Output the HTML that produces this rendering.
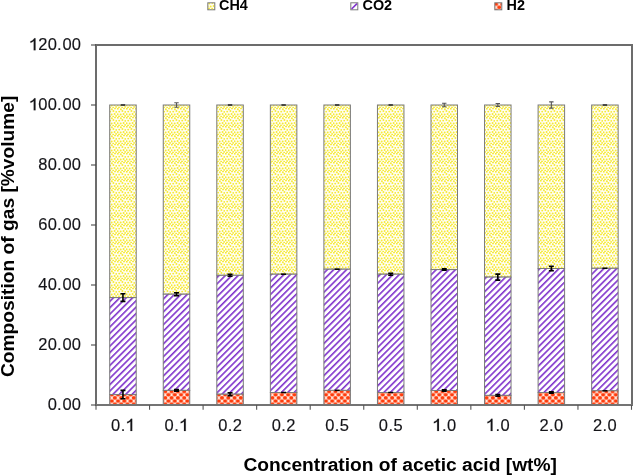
<!DOCTYPE html><html><head><meta charset="utf-8"><style>
html,body{margin:0;padding:0;background:#fff;}
svg{display:block;filter:blur(0.3px);}
text{font-family:"Liberation Sans", sans-serif;}
</style></head><body>
<svg width="633" height="475" viewBox="0 0 633 475">
<defs>
<pattern id="pCH4" patternUnits="userSpaceOnUse" width="9" height="9"><rect width="9" height="9" fill="#fffdf0"/><circle cx="0.8" cy="0.7" r="0.95" fill="#f6ea36"/><circle cx="3.9" cy="1.2" r="0.95" fill="#f6ea36"/><circle cx="7.0" cy="0.4" r="0.95" fill="#f6ea36"/><circle cx="2.2" cy="3.6" r="0.95" fill="#f6ea36"/><circle cx="5.4" cy="3.0" r="0.95" fill="#f6ea36"/><circle cx="8.3" cy="3.9" r="0.95" fill="#f6ea36"/><circle cx="0.6" cy="6.2" r="0.95" fill="#f6ea36"/><circle cx="3.7" cy="6.5" r="0.95" fill="#f6ea36"/><circle cx="6.6" cy="6.0" r="0.95" fill="#f6ea36"/><circle cx="2.0" cy="8.4" r="0.95" fill="#f6ea36"/><circle cx="5.2" cy="8.6" r="0.95" fill="#f6ea36"/><circle cx="8.1" cy="7.9" r="0.95" fill="#f6ea36"/></pattern>
<pattern id="pCO2" patternUnits="userSpaceOnUse" width="4.53" height="4.53" patternTransform="rotate(45)"><rect width="4.53" height="4.53" fill="#ffffff"/><rect x="0" y="0" width="1.6" height="4.53" fill="#8034cc"/></pattern>
<pattern id="pH2" patternUnits="userSpaceOnUse" width="6.3" height="6.3" patternTransform="translate(1.5 1.0)"><rect width="6.3" height="6.3" fill="#ffeae0"/><ellipse cx="0.00" cy="0.00" rx="2.1" ry="1.9" fill="#ff3c0c"/><ellipse cx="6.30" cy="0.00" rx="2.1" ry="1.9" fill="#ff3c0c"/><ellipse cx="0.00" cy="6.30" rx="2.1" ry="1.9" fill="#ff3c0c"/><ellipse cx="6.30" cy="6.30" rx="2.1" ry="1.9" fill="#ff3c0c"/><ellipse cx="3.15" cy="3.15" rx="2.1" ry="1.9" fill="#ff3c0c"/></pattern>
</defs>
<rect x="96.00" y="45" width="536.00" height="360" fill="none" stroke="#6c6c6c" stroke-width="2"/>
<rect x="109.70" y="105.00" width="26.50" height="192.60" fill="url(#pCH4)" stroke="#7a7a7a" stroke-width="1"/>
<rect x="109.70" y="297.60" width="26.50" height="97.00" fill="url(#pCO2)" stroke="#7a7a7a" stroke-width="1"/>
<rect x="109.70" y="394.60" width="26.50" height="10.40" fill="url(#pH2)" stroke="#7a7a7a" stroke-width="1"/>
<path d="M120.75 105.00h4.4" stroke="#222" stroke-width="1.5" fill="none"/>
<path d="M122.95 293.80V301.40M120.45 293.80h5.0M120.45 301.40h5.0" stroke="#000" stroke-width="1.6" fill="none"/>
<path d="M122.95 390.40V398.80M120.45 390.40h5.0M120.45 398.80h5.0" stroke="#000" stroke-width="1.6" fill="none"/>
<rect x="163.25" y="105.00" width="26.50" height="189.20" fill="url(#pCH4)" stroke="#7a7a7a" stroke-width="1"/>
<rect x="163.25" y="294.20" width="26.50" height="96.20" fill="url(#pCO2)" stroke="#7a7a7a" stroke-width="1"/>
<rect x="163.25" y="390.40" width="26.50" height="14.60" fill="url(#pH2)" stroke="#7a7a7a" stroke-width="1"/>
<path d="M176.50 102.70V107.30M174.30 102.70h4.4M174.30 107.30h4.4" stroke="#555" stroke-width="1.1" fill="none"/>
<path d="M176.50 292.70V295.70M174.00 292.70h5.0M174.00 295.70h5.0" stroke="#000" stroke-width="1.6" fill="none"/>
<path d="M176.50 389.60V391.20M174.00 389.60h5.0M174.00 391.20h5.0" stroke="#000" stroke-width="1.6" fill="none"/>
<rect x="216.80" y="105.00" width="26.50" height="170.30" fill="url(#pCH4)" stroke="#7a7a7a" stroke-width="1"/>
<rect x="216.80" y="275.30" width="26.50" height="118.90" fill="url(#pCO2)" stroke="#7a7a7a" stroke-width="1"/>
<rect x="216.80" y="394.20" width="26.50" height="10.80" fill="url(#pH2)" stroke="#7a7a7a" stroke-width="1"/>
<path d="M227.85 105.00h4.4" stroke="#222" stroke-width="1.5" fill="none"/>
<path d="M230.05 274.30V276.30M227.55 274.30h5.0M227.55 276.30h5.0" stroke="#000" stroke-width="1.6" fill="none"/>
<path d="M230.05 392.70V395.70M227.55 392.70h5.0M227.55 395.70h5.0" stroke="#000" stroke-width="1.6" fill="none"/>
<rect x="270.35" y="105.00" width="26.50" height="169.20" fill="url(#pCH4)" stroke="#7a7a7a" stroke-width="1"/>
<rect x="270.35" y="274.20" width="26.50" height="118.30" fill="url(#pCO2)" stroke="#7a7a7a" stroke-width="1"/>
<rect x="270.35" y="392.50" width="26.50" height="12.50" fill="url(#pH2)" stroke="#7a7a7a" stroke-width="1"/>
<path d="M281.40 105.00h4.4" stroke="#222" stroke-width="1.5" fill="none"/>
<path d="M281.10 274.20h5.0" stroke="#000" stroke-width="1.5" fill="none"/>
<path d="M281.10 392.50h5.0" stroke="#000" stroke-width="1.5" fill="none"/>
<rect x="323.90" y="105.00" width="26.50" height="164.20" fill="url(#pCH4)" stroke="#7a7a7a" stroke-width="1"/>
<rect x="323.90" y="269.20" width="26.50" height="121.20" fill="url(#pCO2)" stroke="#7a7a7a" stroke-width="1"/>
<rect x="323.90" y="390.40" width="26.50" height="14.60" fill="url(#pH2)" stroke="#7a7a7a" stroke-width="1"/>
<path d="M334.95 105.00h4.4" stroke="#222" stroke-width="1.5" fill="none"/>
<path d="M334.65 269.20h5.0" stroke="#000" stroke-width="1.5" fill="none"/>
<path d="M334.65 390.40h5.0" stroke="#000" stroke-width="1.5" fill="none"/>
<rect x="377.45" y="105.00" width="26.50" height="169.20" fill="url(#pCH4)" stroke="#7a7a7a" stroke-width="1"/>
<rect x="377.45" y="274.20" width="26.50" height="118.30" fill="url(#pCO2)" stroke="#7a7a7a" stroke-width="1"/>
<rect x="377.45" y="392.50" width="26.50" height="12.50" fill="url(#pH2)" stroke="#7a7a7a" stroke-width="1"/>
<path d="M388.50 105.00h4.4" stroke="#222" stroke-width="1.5" fill="none"/>
<path d="M390.70 273.20V275.20M388.20 273.20h5.0M388.20 275.20h5.0" stroke="#000" stroke-width="1.6" fill="none"/>
<path d="M388.20 392.50h5.0" stroke="#000" stroke-width="1.5" fill="none"/>
<rect x="431.00" y="105.00" width="26.50" height="164.60" fill="url(#pCH4)" stroke="#7a7a7a" stroke-width="1"/>
<rect x="431.00" y="269.60" width="26.50" height="120.90" fill="url(#pCO2)" stroke="#7a7a7a" stroke-width="1"/>
<rect x="431.00" y="390.50" width="26.50" height="14.50" fill="url(#pH2)" stroke="#7a7a7a" stroke-width="1"/>
<path d="M444.25 103.30V106.70M442.05 103.30h4.4M442.05 106.70h4.4" stroke="#555" stroke-width="1.1" fill="none"/>
<path d="M444.25 268.90V270.30M441.75 268.90h5.0M441.75 270.30h5.0" stroke="#000" stroke-width="1.6" fill="none"/>
<path d="M444.25 389.80V391.20M441.75 389.80h5.0M441.75 391.20h5.0" stroke="#000" stroke-width="1.6" fill="none"/>
<rect x="484.55" y="105.00" width="26.50" height="172.10" fill="url(#pCH4)" stroke="#7a7a7a" stroke-width="1"/>
<rect x="484.55" y="277.10" width="26.50" height="118.30" fill="url(#pCO2)" stroke="#7a7a7a" stroke-width="1"/>
<rect x="484.55" y="395.40" width="26.50" height="9.60" fill="url(#pH2)" stroke="#7a7a7a" stroke-width="1"/>
<path d="M497.80 103.50V106.50M495.60 103.50h4.4M495.60 106.50h4.4" stroke="#555" stroke-width="1.1" fill="none"/>
<path d="M497.80 274.10V280.10M495.30 274.10h5.0M495.30 280.10h5.0" stroke="#000" stroke-width="1.6" fill="none"/>
<path d="M497.80 394.50V396.30M495.30 394.50h5.0M495.30 396.30h5.0" stroke="#000" stroke-width="1.6" fill="none"/>
<rect x="538.10" y="105.00" width="26.50" height="163.50" fill="url(#pCH4)" stroke="#7a7a7a" stroke-width="1"/>
<rect x="538.10" y="268.50" width="26.50" height="124.00" fill="url(#pCO2)" stroke="#7a7a7a" stroke-width="1"/>
<rect x="538.10" y="392.50" width="26.50" height="12.50" fill="url(#pH2)" stroke="#7a7a7a" stroke-width="1"/>
<path d="M551.35 101.90V108.10M549.15 101.90h4.4M549.15 108.10h4.4" stroke="#555" stroke-width="1.1" fill="none"/>
<path d="M551.35 266.20V270.80M548.85 266.20h5.0M548.85 270.80h5.0" stroke="#000" stroke-width="1.6" fill="none"/>
<path d="M551.35 391.70V393.30M548.85 391.70h5.0M548.85 393.30h5.0" stroke="#000" stroke-width="1.6" fill="none"/>
<rect x="591.65" y="105.00" width="26.50" height="163.30" fill="url(#pCH4)" stroke="#7a7a7a" stroke-width="1"/>
<rect x="591.65" y="268.30" width="26.50" height="122.50" fill="url(#pCO2)" stroke="#7a7a7a" stroke-width="1"/>
<rect x="591.65" y="390.80" width="26.50" height="14.20" fill="url(#pH2)" stroke="#7a7a7a" stroke-width="1"/>
<path d="M602.70 105.00h4.4" stroke="#222" stroke-width="1.5" fill="none"/>
<path d="M602.40 268.30h5.0" stroke="#000" stroke-width="1.5" fill="none"/>
<path d="M602.40 390.80h5.0" stroke="#000" stroke-width="1.5" fill="none"/>
<path d="M96.00 44V406" stroke="#6c6c6c" stroke-width="2"/>
<path d="M95.00 405H633.00" stroke="#747474" stroke-width="2"/>
<path d="M91 405.00H96.00" stroke="#4a4a4a" stroke-width="1.1"/>
<g transform="translate(0 410.30) scale(1 1.010) translate(0 -410.30)"><text x="47.69" y="410.30" font-size="16.5" fill="#141418" stroke="#141418" stroke-width="0.15">0</text><text x="57.06" y="410.30" font-size="16.5" fill="#141418" stroke="#141418" stroke-width="0.15">.</text><text x="62.45" y="410.30" font-size="16.5" fill="#141418" stroke="#141418" stroke-width="0.15">0</text><text x="71.82" y="410.30" font-size="16.5" fill="#141418" stroke="#141418" stroke-width="0.15">0</text></g>
<path d="M91 345.00H96.00" stroke="#4a4a4a" stroke-width="1.1"/>
<g transform="translate(0 350.30) scale(1 1.010) translate(0 -350.30)"><text x="38.31" y="350.30" font-size="16.5" fill="#141418" stroke="#141418" stroke-width="0.15">2</text><text x="47.69" y="350.30" font-size="16.5" fill="#141418" stroke="#141418" stroke-width="0.15">0</text><text x="57.06" y="350.30" font-size="16.5" fill="#141418" stroke="#141418" stroke-width="0.15">.</text><text x="62.45" y="350.30" font-size="16.5" fill="#141418" stroke="#141418" stroke-width="0.15">0</text><text x="71.82" y="350.30" font-size="16.5" fill="#141418" stroke="#141418" stroke-width="0.15">0</text></g>
<path d="M91 285.00H96.00" stroke="#4a4a4a" stroke-width="1.1"/>
<g transform="translate(0 290.30) scale(1 1.010) translate(0 -290.30)"><text x="38.31" y="290.30" font-size="16.5" fill="#141418" stroke="#141418" stroke-width="0.15">4</text><text x="47.69" y="290.30" font-size="16.5" fill="#141418" stroke="#141418" stroke-width="0.15">0</text><text x="57.06" y="290.30" font-size="16.5" fill="#141418" stroke="#141418" stroke-width="0.15">.</text><text x="62.45" y="290.30" font-size="16.5" fill="#141418" stroke="#141418" stroke-width="0.15">0</text><text x="71.82" y="290.30" font-size="16.5" fill="#141418" stroke="#141418" stroke-width="0.15">0</text></g>
<path d="M91 225.00H96.00" stroke="#4a4a4a" stroke-width="1.1"/>
<g transform="translate(0 230.30) scale(1 1.010) translate(0 -230.30)"><text x="38.31" y="230.30" font-size="16.5" fill="#141418" stroke="#141418" stroke-width="0.15">6</text><text x="47.69" y="230.30" font-size="16.5" fill="#141418" stroke="#141418" stroke-width="0.15">0</text><text x="57.06" y="230.30" font-size="16.5" fill="#141418" stroke="#141418" stroke-width="0.15">.</text><text x="62.45" y="230.30" font-size="16.5" fill="#141418" stroke="#141418" stroke-width="0.15">0</text><text x="71.82" y="230.30" font-size="16.5" fill="#141418" stroke="#141418" stroke-width="0.15">0</text></g>
<path d="M91 165.00H96.00" stroke="#4a4a4a" stroke-width="1.1"/>
<g transform="translate(0 170.30) scale(1 1.010) translate(0 -170.30)"><text x="38.31" y="170.30" font-size="16.5" fill="#141418" stroke="#141418" stroke-width="0.15">8</text><text x="47.69" y="170.30" font-size="16.5" fill="#141418" stroke="#141418" stroke-width="0.15">0</text><text x="57.06" y="170.30" font-size="16.5" fill="#141418" stroke="#141418" stroke-width="0.15">.</text><text x="62.45" y="170.30" font-size="16.5" fill="#141418" stroke="#141418" stroke-width="0.15">0</text><text x="71.82" y="170.30" font-size="16.5" fill="#141418" stroke="#141418" stroke-width="0.15">0</text></g>
<path d="M91 105.00H96.00" stroke="#4a4a4a" stroke-width="1.1"/>
<g transform="translate(0 110.30) scale(1 1.010) translate(0 -110.30)"><path transform="translate(28.933 110.300) scale(0.008057 -0.008057)" d="M815 0H595V1150Q530 1085 424 1023Q318 961 185 925V1104Q380 1178 495 1280Q610 1382 657 1472H815Z" fill="#141418" stroke="#141418" stroke-width="18.6"/><text x="38.31" y="110.30" font-size="16.5" fill="#141418" stroke="#141418" stroke-width="0.15">0</text><text x="47.69" y="110.30" font-size="16.5" fill="#141418" stroke="#141418" stroke-width="0.15">0</text><text x="57.06" y="110.30" font-size="16.5" fill="#141418" stroke="#141418" stroke-width="0.15">.</text><text x="62.45" y="110.30" font-size="16.5" fill="#141418" stroke="#141418" stroke-width="0.15">0</text><text x="71.82" y="110.30" font-size="16.5" fill="#141418" stroke="#141418" stroke-width="0.15">0</text></g>
<path d="M91 45.00H96.00" stroke="#4a4a4a" stroke-width="1.1"/>
<g transform="translate(0 50.30) scale(1 1.010) translate(0 -50.30)"><path transform="translate(28.933 50.300) scale(0.008057 -0.008057)" d="M815 0H595V1150Q530 1085 424 1023Q318 961 185 925V1104Q380 1178 495 1280Q610 1382 657 1472H815Z" fill="#141418" stroke="#141418" stroke-width="18.6"/><text x="38.31" y="50.30" font-size="16.5" fill="#141418" stroke="#141418" stroke-width="0.15">2</text><text x="47.69" y="50.30" font-size="16.5" fill="#141418" stroke="#141418" stroke-width="0.15">0</text><text x="57.06" y="50.30" font-size="16.5" fill="#141418" stroke="#141418" stroke-width="0.15">.</text><text x="62.45" y="50.30" font-size="16.5" fill="#141418" stroke="#141418" stroke-width="0.15">0</text><text x="71.82" y="50.30" font-size="16.5" fill="#141418" stroke="#141418" stroke-width="0.15">0</text></g>
<path d="M96.00 405V409.8" stroke="#555" stroke-width="1.1"/>
<path d="M149.55 405V409.8" stroke="#555" stroke-width="1.1"/>
<path d="M203.10 405V409.8" stroke="#555" stroke-width="1.1"/>
<path d="M256.65 405V409.8" stroke="#555" stroke-width="1.1"/>
<path d="M310.20 405V409.8" stroke="#555" stroke-width="1.1"/>
<path d="M363.75 405V409.8" stroke="#555" stroke-width="1.1"/>
<path d="M417.30 405V409.8" stroke="#555" stroke-width="1.1"/>
<path d="M470.85 405V409.8" stroke="#555" stroke-width="1.1"/>
<path d="M524.40 405V409.8" stroke="#555" stroke-width="1.1"/>
<path d="M577.95 405V409.8" stroke="#555" stroke-width="1.1"/>
<path d="M631.50 405V409.8" stroke="#555" stroke-width="1.1"/>
<g transform="translate(0 431.00) scale(1 1.030) translate(0 -431.00)"><text x="111.08" y="431.00" font-size="16.5" fill="#141418" stroke="#141418" stroke-width="0.15">0</text><text x="120.66" y="431.00" font-size="16.5" fill="#141418" stroke="#141418" stroke-width="0.15">.</text><path transform="translate(125.642 431.000) scale(0.008057 -0.008057)" d="M815 0H595V1150Q530 1085 424 1023Q318 961 185 925V1104Q380 1178 495 1280Q610 1382 657 1472H815Z" fill="#141418" stroke="#141418" stroke-width="18.6"/></g>
<g transform="translate(0 431.00) scale(1 1.030) translate(0 -431.00)"><text x="164.63" y="431.00" font-size="16.5" fill="#141418" stroke="#141418" stroke-width="0.15">0</text><text x="174.21" y="431.00" font-size="16.5" fill="#141418" stroke="#141418" stroke-width="0.15">.</text><path transform="translate(179.192 431.000) scale(0.008057 -0.008057)" d="M815 0H595V1150Q530 1085 424 1023Q318 961 185 925V1104Q380 1178 495 1280Q610 1382 657 1472H815Z" fill="#141418" stroke="#141418" stroke-width="18.6"/></g>
<g transform="translate(0 431.00) scale(1 1.030) translate(0 -431.00)"><text x="218.18" y="431.00" font-size="16.5" fill="#141418" stroke="#141418" stroke-width="0.15">0</text><text x="227.76" y="431.00" font-size="16.5" fill="#141418" stroke="#141418" stroke-width="0.15">.</text><text x="232.74" y="431.00" font-size="16.5" fill="#141418" stroke="#141418" stroke-width="0.15">2</text></g>
<g transform="translate(0 431.00) scale(1 1.030) translate(0 -431.00)"><text x="271.73" y="431.00" font-size="16.5" fill="#141418" stroke="#141418" stroke-width="0.15">0</text><text x="281.31" y="431.00" font-size="16.5" fill="#141418" stroke="#141418" stroke-width="0.15">.</text><text x="286.29" y="431.00" font-size="16.5" fill="#141418" stroke="#141418" stroke-width="0.15">2</text></g>
<g transform="translate(0 431.00) scale(1 1.030) translate(0 -431.00)"><text x="325.28" y="431.00" font-size="16.5" fill="#141418" stroke="#141418" stroke-width="0.15">0</text><text x="334.86" y="431.00" font-size="16.5" fill="#141418" stroke="#141418" stroke-width="0.15">.</text><text x="339.84" y="431.00" font-size="16.5" fill="#141418" stroke="#141418" stroke-width="0.15">5</text></g>
<g transform="translate(0 431.00) scale(1 1.030) translate(0 -431.00)"><text x="378.83" y="431.00" font-size="16.5" fill="#141418" stroke="#141418" stroke-width="0.15">0</text><text x="388.41" y="431.00" font-size="16.5" fill="#141418" stroke="#141418" stroke-width="0.15">.</text><text x="393.39" y="431.00" font-size="16.5" fill="#141418" stroke="#141418" stroke-width="0.15">5</text></g>
<g transform="translate(0 431.00) scale(1 1.030) translate(0 -431.00)"><path transform="translate(432.381 431.000) scale(0.008057 -0.008057)" d="M815 0H595V1150Q530 1085 424 1023Q318 961 185 925V1104Q380 1178 495 1280Q610 1382 657 1472H815Z" fill="#141418" stroke="#141418" stroke-width="18.6"/><text x="441.96" y="431.00" font-size="16.5" fill="#141418" stroke="#141418" stroke-width="0.15">.</text><text x="446.94" y="431.00" font-size="16.5" fill="#141418" stroke="#141418" stroke-width="0.15">0</text></g>
<g transform="translate(0 431.00) scale(1 1.030) translate(0 -431.00)"><path transform="translate(485.931 431.000) scale(0.008057 -0.008057)" d="M815 0H595V1150Q530 1085 424 1023Q318 961 185 925V1104Q380 1178 495 1280Q610 1382 657 1472H815Z" fill="#141418" stroke="#141418" stroke-width="18.6"/><text x="495.51" y="431.00" font-size="16.5" fill="#141418" stroke="#141418" stroke-width="0.15">.</text><text x="500.49" y="431.00" font-size="16.5" fill="#141418" stroke="#141418" stroke-width="0.15">0</text></g>
<g transform="translate(0 431.00) scale(1 1.030) translate(0 -431.00)"><text x="539.48" y="431.00" font-size="16.5" fill="#141418" stroke="#141418" stroke-width="0.15">2</text><text x="549.06" y="431.00" font-size="16.5" fill="#141418" stroke="#141418" stroke-width="0.15">.</text><text x="554.04" y="431.00" font-size="16.5" fill="#141418" stroke="#141418" stroke-width="0.15">0</text></g>
<g transform="translate(0 431.00) scale(1 1.030) translate(0 -431.00)"><text x="593.03" y="431.00" font-size="16.5" fill="#141418" stroke="#141418" stroke-width="0.15">2</text><text x="602.61" y="431.00" font-size="16.5" fill="#141418" stroke="#141418" stroke-width="0.15">.</text><text x="607.59" y="431.00" font-size="16.5" fill="#141418" stroke="#141418" stroke-width="0.15">0</text></g>
<text x="400.2" y="471.0" font-size="19.2" font-weight="bold" text-anchor="middle" fill="#000">Concentration of acetic acid [wt%]</text>
<text transform="translate(14.2 236.3) rotate(-90)" x="0" y="0" font-size="19.2" font-weight="bold" text-anchor="middle" fill="#000">Composition of gas [%volume]</text>
<rect x="207.8" y="2.8" width="7" height="7" fill="url(#pCH4)" stroke="#7a7a7a" stroke-width="1"/>
<text x="219" y="10.3" font-size="14.4" font-weight="bold" fill="#000">CH4</text>
<rect x="350.8" y="2.8" width="7" height="7" fill="#fff" stroke="#7a7a7a" stroke-width="1"/>
<path d="M351.6 9.0L357.0 3.6" stroke="#8034cc" stroke-width="1.6"/>
<text x="362.5" y="10.3" font-size="14.4" font-weight="bold" fill="#000">CO2</text>
<rect x="494.8" y="2.8" width="7" height="7" fill="url(#pH2)" stroke="#7a7a7a" stroke-width="1"/>
<text x="506.6" y="10.3" font-size="14.4" font-weight="bold" fill="#000">H2</text>
</svg></body></html>
